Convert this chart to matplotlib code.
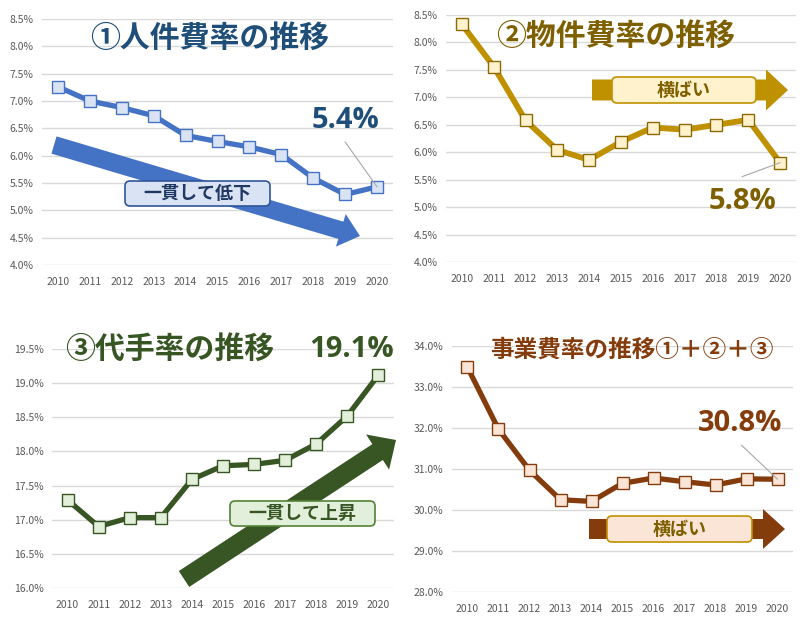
import numpy as np
import matplotlib
matplotlib.use('Agg')
import matplotlib.pyplot as plt
from matplotlib.patches import Polygon, FancyBboxPatch
from matplotlib.transforms import Affine2D
from matplotlib.ticker import FuncFormatter

plt.rcParams['font.family'] = ['Noto Sans CJK JP', 'DejaVu Sans']

# data
years = ['2010', '2011', '2012', '2013', '2014', '2015',
         '2016', '2017', '2018', '2019', '2020']
personnel = [7.26, 7.00, 6.88, 6.73, 6.37, 6.26, 6.16, 6.02, 5.59, 5.29, 5.43]
property_cost = [8.33, 7.56, 6.58, 6.04, 5.86, 6.19, 6.45, 6.41, 6.50, 6.59, 5.81]
agency = [17.29, 16.90, 17.03, 17.03, 17.59, 17.79, 17.81, 17.87, 18.11, 18.52, 19.12]
business = [33.48, 31.97, 30.97, 30.25, 30.21, 30.65, 30.78, 30.69, 30.61, 30.76, 30.75]

titles = ['①人件費率の推移', '②物件費率の推移', '③代手率の推移', '事業費率の推移①＋②＋③']
callouts = ['5.4%', '5.8%', '19.1%', '30.8%']
trend_labels = ['一貫して低下', '横ばい', '一貫して上昇', '横ばい']

W, H = 800, 625
fig = plt.figure(figsize=(W / 100, H / 100), dpi=100)
# pixel coordinates measured from the top-left corner
pix = Affine2D().scale(1 / W, -1 / H).translate(0, 1) + fig.transFigure


def add_axes(left, top, right, bottom):
    return fig.add_axes([left / W, 1 - bottom / H, (right - left) / W, (bottom - top) / H])


def arrow(x0, y0, x1, y1, w, hw, hl, color):
    p0 = np.array([x0, y0], float)
    p1 = np.array([x1, y1], float)
    d = p1 - p0
    L = np.hypot(*d)
    u = d / L
    n = np.array([-u[1], u[0]])
    b = p0 + u * (L - hl)
    pts = [p0 + n * w / 2, b + n * w / 2, b + n * hw / 2, p1,
           b - n * hw / 2, b - n * w / 2, p0 - n * w / 2]
    fig.patches.append(Polygon(pts, closed=True, fc=color, ec='none',
                               transform=pix, zorder=2))


def label_box(l, t, r, b, text, fc, ec, tc):
    fig.patches.append(FancyBboxPatch((l, t), r - l, b - t,
                                      boxstyle='round,pad=0,rounding_size=5',
                                      fc=fc, ec=ec, lw=1.2, transform=pix, zorder=3))
    fig.text((l + r) / 2, (t + b) / 2, text, transform=pix, ha='center', va='center',
             fontsize=13, fontweight='bold', color=tc, zorder=4)


def setup(ax, vals, ylo, yhi, ystep, line, mfc, mec, lw=3.8):
    ax.plot(range(len(vals)), vals, color=line, lw=lw, marker='s', ms=8,
            mfc=mfc, mec=mec, mew=1.0, solid_joinstyle='round', clip_on=False, zorder=3)
    ax.set_xlim(-0.5, len(vals) - 0.5)
    ax.set_ylim(ylo, yhi)
    ax.set_yticks(np.arange(ylo, yhi + ystep / 2, ystep))
    ax.yaxis.set_major_formatter(FuncFormatter(lambda v, p: f'{v:.1f}%'))
    ax.set_xticks(range(len(vals)))
    ax.set_xticklabels(years)
    ax.grid(axis='y', color='#d9d9d9', lw=1)
    ax.set_axisbelow(True)
    for s in ax.spines.values():
        s.set_visible(False)
    ax.tick_params(length=0, labelsize=7.5, colors='#595959')
    ax.tick_params(axis='x', pad=9)
    ax.tick_params(axis='y', pad=6)


def callout(ax, val, text, dx, dy, color, lx=None, ly=None):
    n = len(years) - 1
    ax.annotate(text, xy=(n, val), xytext=(dx, dy), textcoords='offset pixels',
                ha='center', va='center', fontsize=21, fontweight='bold',
                family=['Open Sans', 'DejaVu Sans'],
                color=color, annotation_clip=False, zorder=5)
    if lx is not None:
        ax.annotate('', xy=(n, val), xytext=(lx, ly), textcoords='offset pixels',
                    arrowprops=dict(arrowstyle='-', color='#a6a6a6', lw=0.8,
                                    shrinkA=0, shrinkB=0), annotation_clip=False)


# ① personnel cost ratio
ax1 = add_axes(42, 19, 393, 265)
setup(ax1, personnel, 4.0, 8.5, 0.5, '#4472C4', '#DAE3F3', '#4472C4')
callout(ax1, personnel[-1], callouts[0], -32, 66, '#1F4E79', -32, 45)
fig.text(210, 38, titles[0], transform=pix, ha='center', va='center',
         fontsize=21.5, fontweight='bold', color='#1F4E79')
arrow(54, 145, 360, 236, 18, 34, 20, '#4472C4')
label_box(125, 181, 270, 206, trend_labels[0], '#DAE3F3', '#2F5597', '#1F3864')

# ② property cost ratio
ax2 = add_axes(446, 15, 796, 262)
setup(ax2, property_cost, 4.0, 8.5, 0.5, '#BF9000', '#FFF2CC', '#8C6A00', lw=4.2)
callout(ax2, property_cost[-1], callouts[1], -38, -39, '#7F6000', -38, -14)
fig.text(616, 36, titles[1], transform=pix, ha='center', va='center',
         fontsize=21.5, fontweight='bold', color='#7F6000')
arrow(592, 90, 788, 90, 21, 41, 22, '#BF9000')
label_box(612, 77, 756, 103, trend_labels[1], '#FFF2CC', '#BF9000', '#7F6000')

# ③ agency fee ratio
ax3 = add_axes(52, 349, 394, 588)
setup(ax3, agency, 16.0, 19.5, 0.5, '#375623', '#E2EFDA', '#375623')
callout(ax3, agency[-1], callouts[2], -27, 25, '#375623')
fig.text(170, 349, titles[2], transform=pix, ha='center', va='center',
         fontsize=21.5, fontweight='bold', color='#375623')
arrow(184, 579, 396, 440, 19, 42, 22, '#375623')
label_box(230, 501, 375, 526, trend_labels[2], '#E2EFDA', '#548235', '#375623')

# business cost ratio
ax4 = add_axes(452, 346, 793, 592)
setup(ax4, business, 28.0, 34.0, 1.0, '#843C0C', '#FBE5D6', '#843C0C')
callout(ax4, business[-1], callouts[3], -37, 56, '#843C0C', -36, 34)
fig.text(632, 350, titles[3], transform=pix, ha='center', va='center',
         fontsize=17, fontweight='bold', color='#843C0C')
arrow(589, 529, 785, 529, 20, 40, 22, '#843C0C')
label_box(607, 516, 752, 542, trend_labels[3], '#FBE5D6', '#BF9000', '#7F6000')

fig.savefig('out.png', dpi=100)
